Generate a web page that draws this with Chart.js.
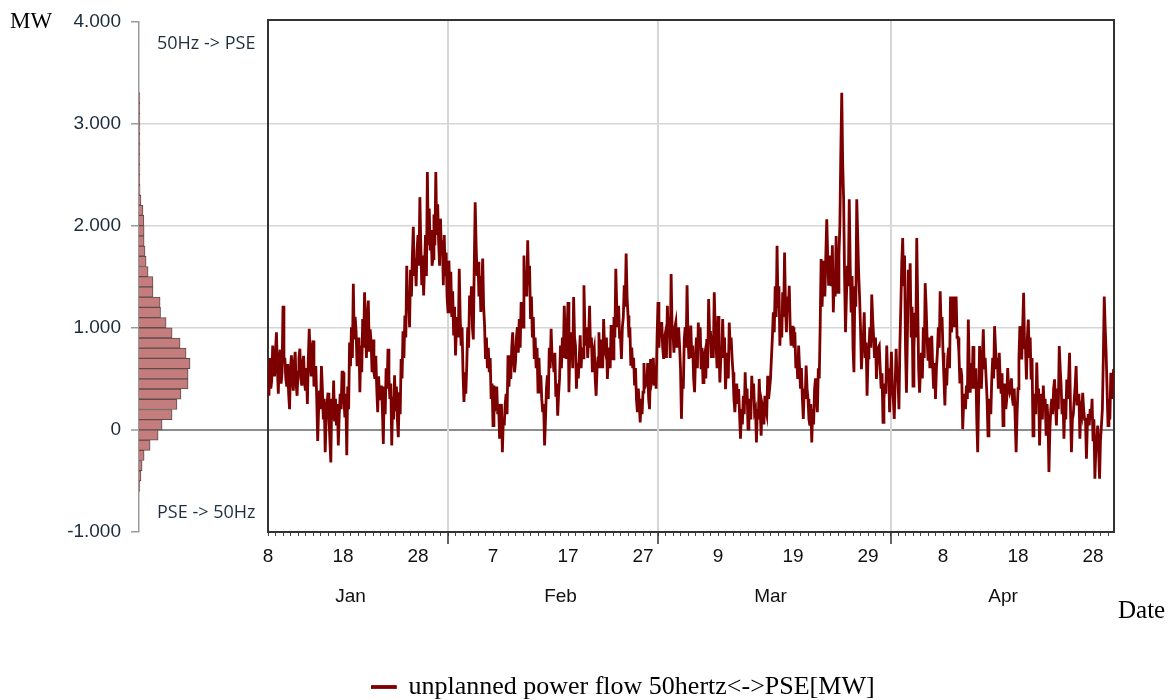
<!DOCTYPE html>
<html>
<head>
<meta charset="utf-8">
<script src="https://cdn.jsdelivr.net/npm/chart.js@4.4.1/dist/chart.umd.min.js"></script>
<style>
  html, body { margin: 0; padding: 0; background: #fff; }
  #wrap { position: relative; width: 1175px; height: 700px; overflow: hidden; }
  .box { position: absolute; left: 0; top: 0; width: 1175px; }
  .lbl { position: absolute; white-space: nowrap; line-height: 1; }
  .serif { font-family: "Liberation Serif", "Times New Roman", serif; color: #000; }
  .dir { font-family: "Open Sans", sans-serif; font-size: 18px; color: #1f2f40; }
</style>
</head>
<body>
<div id="wrap">
  <div class="box" style="height:700px"><canvas id="histChart"></canvas></div>
  <div class="box" style="height:710px"><canvas id="flowChart"></canvas></div>
  <div class="lbl serif" style="left:10px;top:9px;font-size:23px">MW</div>
  <div class="lbl serif" style="left:1118px;top:597px;font-size:25px">Date</div>
  <div class="lbl dir" style="left:157px;top:33px">50Hz -&gt; PSE</div>
  <div class="lbl dir" style="left:157px;top:502px">PSE -&gt; 50Hz</div>
</div>
<script>
/* ===============================
   DATA
   =============================== */
// x axis: days since 8 Jan 2015
const startDate = [2015, 0, 8];
const monthNames = ["Jan", "Feb", "Mar", "Apr"];
const monthStartDay = [24, 52, 83];          // 1 Feb, 1 Mar, 1 Apr
const monthLabelDay = [11, 39, 67, 98];
const yTicks = [-1000, 0, 1000, 2000, 3000, 4000];

// histogram of the flow (bin centre MW, hours)
const histBinMW = [-550, -450, -350, -250, -150, -50, 50, 150, 250, 350, 450, 550, 650, 750, 850, 950,
    1050, 1150, 1250, 1350, 1450, 1550, 1650, 1750, 1850, 1950, 2050, 2150, 2250, 2350,
    2450, 2550, 2650, 2750, 2850, 2950, 3050, 3150, 3250];
const histCount = [4, 9, 14, 23, 50, 86, 104, 149, 171, 189, 221, 221, 230, 212, 185, 149,
    122, 97, 95, 63, 63, 41, 32, 27, 23, 23, 22, 18, 9, 5,
    4, 4, 4, 4, 4, 4, 4, 4, 4];

// unplanned power flow in MW, 3-hourly (8 per day), one row per day from 8 Jan
const samplesPerDay = 8;
const flowMW = [
    560, 330, 700, 400, 480, 820, 600, 520,
    760, 950, 600, 350, 700, 780, 450, 560,
    1210, 700, 690, 500, 420, 640, 350, 200,
    600, 725, 480, 380, 650, 760, 450, 330,
    560, 700, 790, 500, 430, 650, 720, 450,
    380, 600, 250, 700, 985, 700, 520, 800,
    870, 420, 550, 620, 300, -110, 200, 380,
    200, 620, 400, 100, 300, -220, 100, 250,
    360, 120, -100, -320, 300, 100, 480, 80,
    300, 40, 250, -155, 150, 350, 200, 560,
    560, 300, 120, 350, -250, 420, 200, 850,          // 18 Jan
    620, 1000, 700, 1425, 880, 1100, 950, 620,
    700, 900, 365, 820, 560, 1080, 800, 1340,
    980, 700, 1100, 1260, 760, 980, 850, 560,
    880, 560, 495, 720, 400, 170, 520, 300,
    300, 430, 200, -140, 420, 150, 600, 400,
    790, 500, 300, 450, -155, 320, 100, 530,
    180, 420, 100, -75, 365, 150, 690, 500,
    960, 700, 1115, 900, 1600, 1180, 1280, 1000,
    1560, 1300, 1700, 1980, 1500, 1670, 1400, 1750,
    1900, 1600, 2270, 1800, 1410, 1700, 1310, 1600,   // 28 Jan
    1900, 1500, 2515, 1800, 2160, 1750, 1950, 1600,
    1670, 2100, 1800, 2515, 1900, 2200, 1830, 1600,
    2060, 1700, 1850, 1410, 1900, 1500, 1730, 1300,
    1150, 1650, 1300, 1540, 1100, 1350, 920, 1200,    // 1 Feb
    725, 1000, 1100, 900, 1570, 1100, 820, 1000,
    560, 270, 480, 350, 625, 1000, 800, 1310,
    1120, 1400, 1000, 880, 1600, 2220, 1800, 1500,
    1640, 1300, 1500, 1150, 1400, 1670, 1200, 1020,
    690, 900, 600, 800, 560, 700, 300, 450,
    40, 430, 200, 235, 420, 150, 250, -90,            // 7 Feb
    150, 250, -220, 100, 40, 250, 350, 150,
    725, 420, 600, 495, 800, 950, 700, 560,
    660, 900, 1000, 750, 1080, 800, 1245, 1000,
    1000, 1700, 1300, 1550, 1300, 1850, 1410, 1600,
    1080, 1300, 900, 1100, 690, 900, 600, 800,
    365, 700, 450, 530, 300, 170, 250, -155,
    100, 400, 530, 300, 800, 600, 985, 700,
    700, 560, 750, 320, 450, 135, 350, 500,
    820, 600, 900, 700, 1210, 900, 690, 950,
    1245, 365, 800, 700, 950, 600, 1295, 900,         // 17 Feb
    820, 400, 650, 500, 700, 920, 600, 800,
    700, 1410, 1000, 820, 1000, 700, 900, 1210,
    800, 900, 560, 750, 800, 500, 330, 600,
    700, 950, 600, 690, 880, 600, 1080, 800,
    750, 900, 495, 700, 800, 600, 1020, 700,
    690, 1100, 900, 1570, 1200, 1000, 1210, 900,
    900, 690, 1000, 1100, 1410, 1200, 1720, 1300,
    1115, 900, 1000, 625, 800, 600, 700, 430,
    600, 300, 170, 400, 250, 70, 300, 150,
    365, 650, 400, 530, 420, 650, 300, 200,           // 27 Feb
    690, 450, 500, 700, 430, 625, 400, 900,
    1245, 800, 1000, 920, 1050, 800, 690, 900,        // 1 Mar
    950, 700, 1210, 900, 1100, 700, 1520, 1000,
    950, 750, 1000, 1050, 800, 880, 1000, 820,
    600, 105, 500, 400, 880, 1000, 800, 1410,
    900, 690, 800, 1015, 700, 820, 500, 365,
    700, 900, 600, 1045, 800, 1000, 590, 800,
    460, 700, 750, 500, 885, 600, 1275, 950,
    950, 700, 920, 700, 1340, 1000, 820, 600,
    1110, 800, 460, 700, 800, 1080, 700, 900,         // 9 Mar
    395, 600, 750, 500, 1045, 800, 900, 700,
    560, 300, 170, 350, 450, 250, 395, 150,
    -90, 200, 50, 330, 150, 560, 250, 400,
    5, 200, 300, 100, 525, 300, 450, 170,
    200, -125, 200, 100, 495, 200, -60, 250,
    200, 50, 330, 200, 150, 525, 300, 395,
    500, 700, 900, 1145, 950, 1400, 1100, 1795,
    1200, 1400, 820, 1100, 900, 1340, 1100, 1730,
    1200, 950, 1300, 1150, 1405, 1000, 820, 1000,
    1000, 800, 950, 600, 700, 495, 820, 600,          // 19 Mar
    400, 600, 300, 105, 400, 300, 625, 400,
    300, 100, 40, 250, -125, 200, 50, 395,
    500, 300, 170, 600, 500, 1015, 1665, 1200,
    1470, 1650, 1300, 1700, 2055, 1700, 1405, 1600,
    1700, 1400, 1800, 1145, 1500, 1300, 1890, 1340,
    1340, 1700, 2000, 2705, 3290, 2600, 2250, 1500,
    950, 1300, 1600, 1400, 2250, 1600, 1145, 1500,
    800, 560, 1400, 1200, 2250, 1900, 1535, 1300,
    1000, 590, 800, 900, 1145, 700, 850, 330,
    700, 800, 1000, 800, 1320, 1080, 900, 700,        // 29 Mar
    900, 495, 700, 800, 820, 600, 400, 550,
    70, 300, 450, 350, 820, 500, 600, 170,
    500, 760, 400, 300, 105, 450, 790, 500,           // 1 Apr
    500, 200, 815, 1200, 1625, 1870, 1400, 1700,
    800, 360, 900, 1560, 1300, 1625, 900, 1200,
    425, 800, 1140, 900, 1870, 1240, 600, 360,
    600, 750, 500, 1000, 700, 1430, 1205, 900,
    685, 900, 600, 800, 915, 620, 400, 650,
    300, 600, 750, 1000, 800, 1350, 1000, 1100,
    750, 500, 235, 600, 430, 700, 800, 600,           // 8 Apr
    1300, 950, 1100, 1300, 1000, 1075, 1300, 900,
    900, 750, 450, 600, 525, 5, 250, 350,
    200, 430, 300, 1075, 600, 360, 650, 400,
    815, 500, 400, 600, 105, -220, 300, 815,
    600, 400, 700, 980, 590, 700, 500, 300,
    -60, 200, 300, 150, 490, 700, 500, 1010,
    800, 590, 700, 400, 750, 500, 350, 550,
    40, 250, 450, 200, 300, 600, 400, 360,
    400, 500, 300, 235, 400, 100, -220, 150,
    400, 700, 1010, 800, 685, 1000, 1335, 800,        // 18 Apr
    800, 490, 900, 1075, 700, 900, 490, 700,
    -60, 200, 350, 150, 655, 300, 400, -155,
    200, 350, 100, 430, 200, 300, -60, 250,
    100, -415, 0, 200, 300, 150, 400, 490,
    250, 40, 400, 200, 815, 600, 430, 150,
    300, -90, 250, 100, 490, 300, 500, 750,
    200, -220, 100, 150, 300, 430, 620, 250,
    250, 350, -90, 200, 150, 360, 200, 100,
    100, -285, 50, 150, 40, 200, 100, 300,
    -100, 100, -480, -200, -100, 40, -200, -480,      // 28 Apr
    -100, 40, 200, 700, 1300, 1000, 750, 400,
    40, 300, 100, 555, 300, 450, 590
];

/* ===============================
   HELPERS
   =============================== */
function fmtMW(v) {
    if (v === 0) return "0";
    const a = Math.abs(v);
    return (v < 0 ? "-" : "") + Math.floor(a / 1000) + "." + String(a % 1000).padStart(3, "0");
}

function dayLabel(d) {
    if (d % 10 === 0) {
        return String(new Date(startDate[0], startDate[1], startDate[2] + d).getDate());
    }
    const m = monthLabelDay.indexOf(d);
    if (m >= 0) return ["", monthNames[m]];
    return "";
}

const X_MAX = 112.8;
const dayTicks = [];
for (let d = 0; d <= 112; d++) dayTicks.push(d);

/* ===============================
   HISTOGRAM + Y AXIS (back layer)
   =============================== */
new Chart(document.getElementById("histChart"), {
    type: "bar",
    data: {
        datasets: [{
            label: "distribution",
            data: histBinMW.map((mw, i) => ({ x: histCount[i], y: mw })),
            backgroundColor: "#c47c7c",
            borderColor: "#5e4c4c",
            borderWidth: 1,
            categoryPercentage: 1,
            barPercentage: 1
        }]
    },
    options: {
        indexAxis: "y",
        responsive: true,
        maintainAspectRatio: false,
        animation: false,
        layout: { padding: { left: 0, right: 61, top: 20, bottom: 168 } },
        plugins: { legend: { display: false }, tooltip: { enabled: false } },
        scales: {
            x: { type: "linear", min: 0, max: 4390, display: false },
            y: {
                type: "linear",
                min: -1000,
                max: 4000,
                offset: false,
                position: "left",
                afterFit: s => { s.width = 139; },
                afterBuildTicks: s => { s.ticks = yTicks.map(v => ({ value: v })); },
                ticks: {
                    callback: v => fmtMW(v),
                    font: { family: "Liberation Sans", size: 19 },
                    color: "#1c2b3b",
                    padding: 10
                },
                grid: {
                    offset: false,
                    color: c => {
                        const v = c.tick ? c.tick.value : null;
                        if (v === 0) return "#8c8c8c";
                        if (v === 4000 || v === -1000) return "rgba(0,0,0,0)";
                        return "#d6d6d6";
                    },
                    lineWidth: c => (c.tick && c.tick.value === 0 ? 2 : 1.5),
                    tickColor: "#9a9a9a",
                    tickWidth: 1.5,
                    tickLength: 8
                },
                border: { color: "#9a9a9a", width: 1.5 }
            }
        }
    }
});

/* ===============================
   FLOW LINE CHART (front layer)
   =============================== */
new Chart(document.getElementById("flowChart"), {
    type: "line",
    data: {
        datasets: [{
            label: "unplanned power flow 50hertz<->PSE[MW]",
            data: flowMW.map((v, i) => ({ x: i / samplesPerDay, y: v })),
            borderColor: "#7d0000",
            backgroundColor: "#7d0000",
            borderWidth: 2.8,
            pointRadius: 0,
            tension: 0
        }]
    },
    options: {
        responsive: true,
        maintainAspectRatio: false,
        animation: false,
        layout: { padding: { left: 133, right: 61, top: 20, bottom: 0 } },
        plugins: {
            tooltip: { enabled: false },
            legend: {
                position: "bottom",
                labels: {
                    boxWidth: 23,
                    boxHeight: 1,
                    padding: 10,
                    color: "#000",
                    font: { family: "Liberation Serif", size: 26 }
                }
            }
        },
        scales: {
            x: {
                type: "linear",
                position: "bottom",
                min: 0,
                max: X_MAX,
                afterFit: s => { s.height = 132; },
                afterBuildTicks: s => { s.ticks = dayTicks.map(v => ({ value: v })); },
                ticks: {
                    autoSkip: false,
                    maxRotation: 0,
                    minRotation: 0,
                    padding: 1,
                    color: "#111",
                    font: { family: "Liberation Sans", size: 19, lineHeight: 40 / 19 },
                    callback: v => dayLabel(v)
                },
                grid: { drawOnChartArea: false, tickLength: 4, tickColor: "#444", tickWidth: 1 },
                border: { color: "#333", width: 2 }
            },
            xMajor: {
                type: "linear",
                position: { y: -1000 },
                min: 0,
                max: X_MAX,
                afterBuildTicks: s => { s.ticks = monthStartDay.map(v => ({ value: v })); },
                ticks: { display: false },
                grid: { color: "#d6d6d6", lineWidth: 2, tickColor: "#333", tickWidth: 1.5, tickLength: 12 },
                border: { display: false }
            },
            xTop: {
                type: "linear",
                position: "top",
                min: 0,
                max: X_MAX,
                ticks: { display: false },
                grid: { display: false, drawTicks: false },
                border: { color: "#333", width: 2 }
            },
            y: {
                type: "linear",
                position: "left",
                min: -1000,
                max: 4000,
                afterFit: s => { s.width = 135; },
                ticks: { display: false },
                grid: { display: false, drawTicks: false },
                border: { color: "#333", width: 2 }
            },
            yRight: {
                type: "linear",
                position: "right",
                min: -1000,
                max: 4000,
                ticks: { display: false },
                grid: { display: false, drawTicks: false },
                border: { color: "#333", width: 2 }
            }
        }
    }
});
</script>
</body>
</html>
